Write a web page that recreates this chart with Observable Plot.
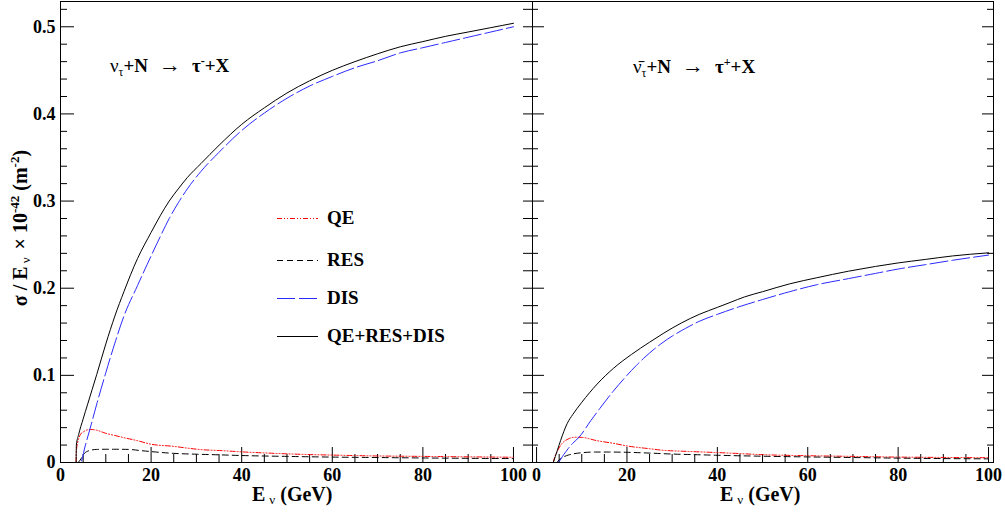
<!DOCTYPE html>
<html><head><meta charset="utf-8">
<script src="https://cdn.jsdelivr.net/npm/d3@7"></script>
<script src="https://cdn.jsdelivr.net/npm/@observablehq/plot@0.6"></script>
<style>
body{margin:0;background:#fff}
#wrap{position:relative;width:1005px;height:512px;overflow:hidden;font-family:"Liberation Serif","Times New Roman",Times,"DejaVu Serif",serif;font-weight:bold;background:#fff}
#wrap svg{overflow:visible}
#wrap text{font-family:"Liberation Serif","Times New Roman",Times,"DejaVu Serif",serif}
.panel{position:absolute;top:0}
#overlay{position:absolute;left:0;top:0;pointer-events:none}
</style></head>
<body>
<div id="wrap">
  <div id="left" class="panel" style="left:0;width:533px"></div>
  <div id="right" class="panel" style="left:532px;width:473px"></div>
</div>
<script>
// ---- Left panel: nu_tau + N -> tau- + X ----
const nuQE_E  = [3.45, 3.5, 4, 4.5, 5, 6, 7, 8, 10, 12, 14, 17, 20, 25, 28, 31, 36, 40, 45, 53, 60, 70, 80, 90, 100];
const nuQE_v  = [0, 0.013, 0.027, 0.033, 0.035, 0.0375, 0.0378, 0.037, 0.0335, 0.031, 0.0285, 0.025, 0.021, 0.0185, 0.0165, 0.0148, 0.0135, 0.0122, 0.011, 0.0094, 0.0085, 0.0075, 0.007, 0.0065, 0.006];
const nuRES_E = [3.9, 4.5, 5, 5.5, 6, 7, 8, 10, 12, 15, 18, 20, 25, 30, 35, 40, 50, 60, 70, 80, 90, 100];
const nuRES_v = [0, 0.004, 0.0085, 0.0115, 0.013, 0.0145, 0.015, 0.0152, 0.0152, 0.015, 0.0135, 0.0125, 0.0105, 0.0095, 0.0088, 0.008, 0.007, 0.0062, 0.0057, 0.0052, 0.0048, 0.0045];
const nuDIS_E = [0, 4.4, 5.5, 6.8, 8, 10, 12, 14, 17, 20, 22, 24, 26, 28, 31, 35, 40, 45, 50, 55, 60, 65, 70, 75, 80, 85, 90, 95, 100];
const nuDIS_v = [0, 0, 0.02, 0.044, 0.067, 0.103, 0.137, 0.168, 0.203, 0.237, 0.259, 0.28, 0.298, 0.314, 0.334, 0.356, 0.381, 0.401, 0.418, 0.432, 0.443, 0.453, 0.461, 0.47, 0.476, 0.482, 0.488, 0.494, 0.5];
const nuTot_E = [3.45, 3.5, 4, 5, 6, 7, 8, 10, 12, 14, 17, 20, 22, 24, 26, 28, 31, 35, 40, 45, 50, 55, 60, 65, 70, 75, 80, 85, 90, 95, 100];
const nuTot_v = [0, 0.02, 0.032, 0.05, 0.067, 0.084, 0.101, 0.136, 0.168, 0.196, 0.234, 0.264, 0.283, 0.3, 0.314, 0.327, 0.343, 0.364, 0.388, 0.407, 0.424, 0.438, 0.45, 0.46, 0.469, 0.477, 0.483, 0.489, 0.494, 0.499, 0.504];

// ---- Right panel: anti-nu_tau + N -> tau+ + X ----
const abQE_E  = [3.7, 4, 4.5, 5.5, 7, 8.5, 10, 13.4, 17, 20, 25, 28, 32, 37, 43, 50, 53, 60, 70, 80, 90, 100];
const abQE_v  = [0, 0.006, 0.012, 0.021, 0.027, 0.029, 0.0288, 0.025, 0.022, 0.019, 0.0158, 0.014, 0.013, 0.012, 0.0107, 0.009, 0.0085, 0.0078, 0.007, 0.0062, 0.0058, 0.0055];
const abRES_E = [4.5, 5, 6, 7, 8, 10, 13, 16, 20, 25, 30, 35, 40, 50, 60, 70, 80, 90, 100];
const abRES_v = [0, 0.003, 0.0065, 0.0085, 0.0098, 0.0112, 0.012, 0.012, 0.0117, 0.0108, 0.0097, 0.009, 0.0083, 0.0072, 0.0064, 0.0057, 0.005, 0.0045, 0.0042];
const abDIS_E = [0, 4.6, 6, 7, 8, 9.4, 12, 14, 17, 20, 22, 24, 26, 28, 30, 33, 36, 40, 45, 50, 56, 62, 69, 75, 80, 86, 92, 100];
const abDIS_v = [0, 0, 0.009, 0.016, 0.022, 0.029, 0.048, 0.062, 0.082, 0.1, 0.111, 0.121, 0.13, 0.138, 0.145, 0.154, 0.162, 0.17, 0.179, 0.187, 0.196, 0.204, 0.211, 0.217, 0.222, 0.227, 0.232, 0.238];
const abTot_E = [3.7, 4.6, 5.3, 6.8, 8, 10, 13.4, 17, 21, 25, 28, 32, 36, 40, 43, 46, 50, 56, 62, 69, 75, 80, 86, 92, 100];
const abTot_v = [0, 0.014, 0.025, 0.045, 0.055, 0.069, 0.09, 0.108, 0.124, 0.138, 0.148, 0.16, 0.17, 0.178, 0.184, 0.19, 0.196, 0.205, 0.212, 0.2195, 0.225, 0.229, 0.233, 0.237, 0.2406];

// ---- ticks ----
const xLabels = [0, 20, 40, 60, 80, 100];
const xMinor  = [5, 10, 15, 25, 30, 35, 45, 50, 55, 65, 70, 75, 85, 90, 95];
const yLabels = [0, 0.1, 0.2, 0.3, 0.4, 0.5];
const yMinor  = [0.02, 0.04, 0.06, 0.08, 0.12, 0.14, 0.16, 0.18, 0.22, 0.24, 0.26, 0.28, 0.32, 0.34, 0.36, 0.38, 0.42, 0.44, 0.46, 0.48, 0.52];

const legendNames = ["QE", "RES", "DIS", "QE+RES+DIS"];
const styles = {
  QE:  {stroke: "#ff0000", dash: "5,2,1,2,1,2"},
  RES: {stroke: "#000000", dash: "6,4"},
  DIS: {stroke: "#2a2aff", dash: "18,4"},
  "QE+RES+DIS": {stroke: "#000000", dash: null}
};
const FONT = '"Liberation Serif", "Times New Roman", Times, "DejaVu Serif", serif';

const series = (Es, vs) => Es.map((E, i) => ({E, v: vs[i]}));

function panel(o) {
  const H = 512, mt = 1, mb = 50;
  const fw = o.width - o.marginLeft - o.marginRight;
  const fh = H - mt - mb;
  const line = (d, name) => Plot.line(d, {x: "E", y: "v", stroke: styles[name].stroke, strokeWidth: 1,
    strokeDasharray: styles[name].dash || undefined, curve: "monotone-x"});
  const marks = [
    Plot.ruleY(yLabels, {stroke: "black", insetRight: fw - o.lMaj}),
    Plot.ruleY(yMinor, {stroke: "black", insetRight: fw - o.lMin}),
    Plot.ruleY(yLabels, {stroke: "black", insetLeft: fw - o.rMaj}),
    Plot.ruleY(yMinor, {stroke: "black", insetLeft: fw - o.rMin}),
    Plot.ruleX(xLabels, {stroke: "black", insetTop: fh - 15}),
    Plot.ruleX(xMinor, {stroke: "black", insetTop: fh - 8}),
    Plot.axisX({ticks: xLabels, tickSize: 0, tickPadding: 6, tickFormat: d => String(d), label: null,
      fontFamily: FONT, fontWeight: "bold", fontSize: 18}),
    line(o.qe, "QE"),
    line(o.res, "RES"),
    line(o.tot, "QE+RES+DIS"),
    line(o.dis, "DIS"),
    Plot.frame({stroke: "black"})
  ];
  if (o.yAxis) marks.push(Plot.axisY({ticks: yLabels, tickSize: 0, tickPadding: 5,
    tickFormat: d => d === 0 ? "0" : d.toFixed(1), label: null, fontFamily: FONT, fontWeight: "bold", fontSize: 18}));
  return Plot.plot({
    width: o.width, height: H,
    marginLeft: o.marginLeft, marginRight: o.marginRight, marginTop: mt, marginBottom: mb,
    x: {domain: o.xDomain, label: null},
    y: {domain: [0, 0.529], label: null, axis: o.yAxis ? undefined : null},
    style: {fontFamily: FONT, fontWeight: "bold", fontSize: "18px", background: "transparent", overflow: "visible"},
    marks
  });
}

document.getElementById("left").append(panel({
  width: 533, marginLeft: 60, marginRight: 1, xDomain: [0, 104.2], yAxis: true,
  lMaj: 14, lMin: 7, rMaj: 9, rMin: 9,
  qe: series(nuQE_E, nuQE_v), res: series(nuRES_E, nuRES_v), dis: series(nuDIS_E, nuDIS_v), tot: series(nuTot_E, nuTot_v)
}));
document.getElementById("right").append(panel({
  width: 473, marginLeft: 0, marginRight: 12, xDomain: [-0.9, 101.1], yAxis: false,
  lMaj: 12, lMin: 6, rMaj: 11, rMin: 6,
  qe: series(abQE_E, abQE_v), res: series(abRES_E, abRES_v), dis: series(abDIS_E, abDIS_v), tot: series(abTot_E, abTot_v)
}));

// ---- overlay texts and legend ----
const ov = d3.select("#wrap").append("svg").attr("id", "overlay").attr("width", 1005).attr("height", 512)
  .attr("font-family", FONT).attr("font-weight", "bold");
function rich(x, y, size, parts, rotate) {
  const t = ov.append("text").attr("x", x).attr("y", y).attr("font-size", size).attr("fill", "black")
    .style("white-space", "pre");
  if (rotate) t.attr("transform", `rotate(-90 ${x} ${y})`).attr("text-anchor", "middle");
  let cur = 0;
  for (const p of parts) {
    const target = p.shift || 0;
    const ts = t.append("tspan").text(p.t);
    if (target - cur) ts.attr("dy", target - cur);
    if (p.size) ts.attr("font-size", p.size);
    if (p.dx) ts.attr("dx", p.dx);
    if (p.normal) ts.attr("font-weight", "normal");
    cur = target;
  }
  return t;
}
rich(110, 72, 19, [{t: "ν", normal: true}, {t: "τ", size: 12, shift: 4, normal: true}, {t: "+N"}, {t: "→", dx: 11, size: 22, normal: true}, {t: "τ", dx: 11}, {t: "-", size: 12, shift: -7}, {t: "+X"}]);
rich(633, 73, 19, [{t: "ν̄", normal: true}, {t: "τ", size: 12, shift: 4, normal: true}, {t: "+N"}, {t: "→", dx: 11, size: 22, normal: true}, {t: "τ", dx: 11}, {t: "+", size: 12, shift: -7}, {t: "+X"}]);
rich(252, 501, 20, [{t: "E"}, {t: "ν", size: 13, shift: 3, dx: 4, normal: true}, {t: "(GeV)", dx: 5}]);
rich(720, 501, 20, [{t: "E"}, {t: "ν", size: 13, shift: 3, dx: 4, normal: true}, {t: "(GeV)", dx: 5}]);
rich(27, 228, 20, [{t: "σ / E"}, {t: "ν", size: 13, shift: 3, dx: 3, normal: true}, {t: " × 10", dx: 3}, {t: "-42", size: 13, shift: -8}, {t: " (m"}, {t: "-2", size: 13, shift: -8}, {t: ")"}], true);

const legY = [218, 260, 298, 336];
legendNames.forEach((name, i) => {
  const s = styles[name];
  const l = ov.append("line").attr("x1", 277).attr("x2", 318).attr("y1", legY[i] + 0.5).attr("y2", legY[i] + 0.5)
    .attr("stroke", s.stroke).attr("stroke-width", 1);
  if (s.dash) l.attr("stroke-dasharray", s.dash);
  ov.append("text").attr("x", 327).attr("y", legY[i] + 6.3).attr("font-size", 19).attr("fill", "black").text(name);
});
</script>
</body></html>
